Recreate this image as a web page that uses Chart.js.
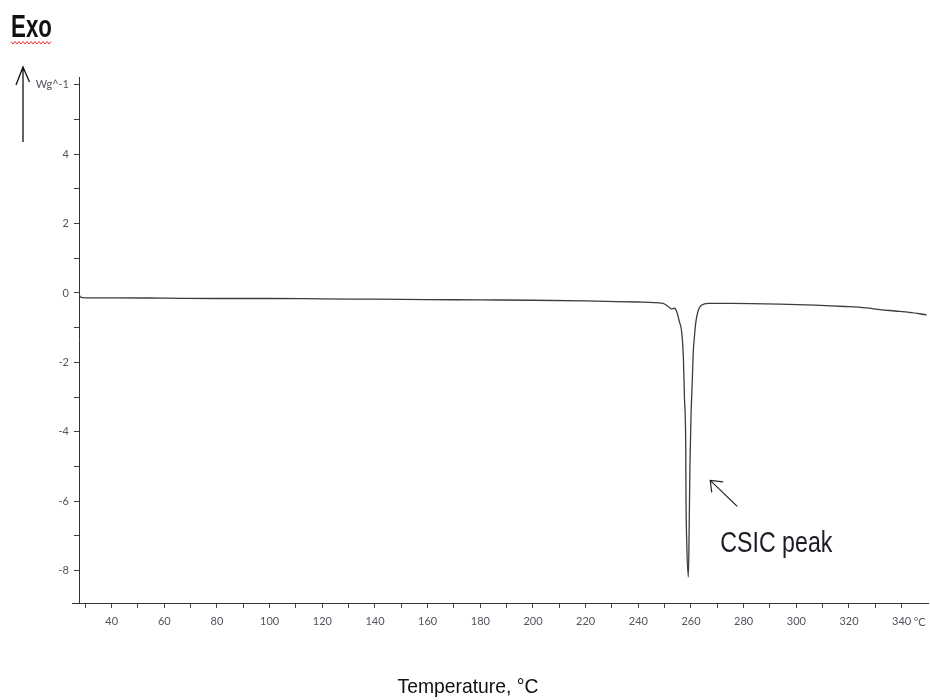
<!DOCTYPE html>
<html>
<head>
<meta charset="utf-8">
<script src="https://cdn.jsdelivr.net/npm/chart.js@4"></script>
<style>
  html, body { margin: 0; padding: 0; background: #ffffff; }
  #wrap { width: 930px; height: 700px; position: relative; }
</style>
</head>
<body>
<div id="wrap"><canvas id="dsc" width="930" height="700"></canvas></div>
<script>
// DSC thermogram: heat flow (W/g) against temperature (°C)
const temperature = [
  27.6, 28.4, 30, 40, 60, 80, 100, 120, 140, 160, 180, 200, 220, 240,
  249.4, 251.3, 252.7, 253.7, 254.6, 255.5, 256.5, 257.1, 257.5, 258.0,
  258.1, 258.4, 259.0, 259.3, 259.6, 260.0, 260.5, 260.9, 261.2, 261.8,
  262.8, 264.1, 266.5, 275, 293.7, 307, 318.5, 326.5, 331.8, 337.5, 343, 349.5
];
const heatFlow = [
  -0.06, -0.13, -0.14, -0.14, -0.15, -0.16, -0.16, -0.17, -0.18, -0.19, -0.2, -0.21, -0.23, -0.26,
  -0.30, -0.39, -0.46, -0.44, -0.54, -0.80, -1.15, -1.84, -2.99, -4.43,
  -5.87, -7.22, -8.18, -6.83, -5.0, -3.56, -2.51, -1.64, -1.35, -0.86,
  -0.49, -0.35, -0.30, -0.30, -0.32, -0.35, -0.39, -0.43, -0.48, -0.52, -0.56, -0.63
];

// axis ticks: every 10 °C / 1 W/g, labelled every 20 °C / 2 W/g
const xTicks = [30, 40, 50, 60, 70, 80, 90, 100, 110, 120, 130, 140, 150, 160, 170, 180, 190, 200,
  210, 220, 230, 240, 250, 260, 270, 280, 290, 300, 310, 320, 330, 340];
const xLabels = ['', '40', '', '60', '', '80', '', '100', '', '120', '', '140', '', '160', '', '180', '', '200',
  '', '220', '', '240', '', '260', '', '280', '', '300', '', '320', '', '340'];
const yTicks = [-8, -7, -6, -5, -4, -3, -2, -1, 0, 1, 2, 3, 4, 5, 6];
const yLabels = ['-8', '', '-6', '', '-4', '', '-2', '', '0', '', '2', '', '4', '', 'Wg^-1'];

const points = temperature.map((t, i) => ({ x: t, y: heatFlow[i] }));

const tickFont = { family: 'Lato, "Open Sans", sans-serif', size: 11 };
const tickColor = '#50545c';
const sans = '"Liberation Sans", Arial, sans-serif';

// draws text squeezed horizontally, for a condensed look
function narrowText(ctx, text, x, y, squeeze, align) {
  ctx.save();
  ctx.translate(x, y);
  ctx.scale(squeeze, 1);
  ctx.textAlign = align || 'left';
  ctx.fillText(text, 0, 0);
  const w = ctx.measureText(text).width * squeeze;
  ctx.restore();
  return w;
}

const annotations = {
  id: 'annotations',
  afterDraw(chart) {
    const ctx = chart.ctx;
    const xs = chart.scales.x, ys = chart.scales.y;
    const area = chart.chartArea;
    ctx.save();

    // short stub of the temperature axis left of the heat-flow axis
    ctx.strokeStyle = '#333';
    ctx.lineWidth = 1;
    ctx.beginPath();
    ctx.moveTo(72, area.bottom + 0.5);
    ctx.lineTo(area.left, area.bottom + 0.5);
    ctx.stroke();

    // "Exo" heading with its wavy red underline
    ctx.fillStyle = '#111';
    ctx.font = 'bold 31px ' + sans;
    ctx.textBaseline = 'alphabetic';
    const w = narrowText(ctx, 'Exo', 11, 37, 0.72);
    ctx.strokeStyle = '#e03030';
    ctx.lineWidth = 1;
    ctx.beginPath();
    for (let x = 11, k = 0; x <= 11 + w; x += 2, k++) {
      const y = (k % 2 === 0) ? 41.5 : 44;
      if (k === 0) ctx.moveTo(x, y); else ctx.lineTo(x, y);
    }
    ctx.stroke();

    // upward arrow marking the exothermic direction
    ctx.strokeStyle = '#111';
    ctx.lineWidth = 1.3;
    ctx.beginPath();
    ctx.moveTo(23, 142);
    ctx.lineTo(23, 67);
    ctx.moveTo(16, 85);
    ctx.lineTo(23, 67);
    ctx.lineTo(29.5, 82);
    ctx.stroke();

    // unit after the last temperature tick
    ctx.fillStyle = tickColor;
    ctx.font = '11px ' + tickFont.family;
    ctx.textAlign = 'left';
    ctx.textBaseline = 'middle';
    ctx.fillText('°C', xs.getPixelForValue(340) + 12, 622);

    // peak annotation
    const px = xs.getPixelForValue(267.3);
    const py = ys.getPixelForValue(-5.4);
    ctx.strokeStyle = '#222';
    ctx.lineWidth = 1.2;
    ctx.beginPath();
    ctx.moveTo(px + 27, py + 26);
    ctx.lineTo(px, py);
    ctx.moveTo(px + 13, py + 1.5);
    ctx.lineTo(px, py);
    ctx.lineTo(px + 1.5, py + 12);
    ctx.stroke();

    ctx.fillStyle = '#1c1c24';
    ctx.font = '29px ' + sans;
    ctx.textBaseline = 'alphabetic';
    narrowText(ctx, 'CSIC peak', px + 10, py + 72, 0.8);

    // x-axis title
    ctx.fillStyle = '#111';
    ctx.font = '21px ' + sans;
    narrowText(ctx, 'Temperature, °C', 468, 693, 0.92, 'center');

    ctx.restore();
  }
};

new Chart(document.getElementById('dsc'), {
  type: 'line',
  data: {
    datasets: [{
      data: points,
      borderColor: '#3c3c3c',
      borderWidth: 1.3,
      pointRadius: 0,
      cubicInterpolationMode: 'monotone',
      fill: false
    }]
  },
  options: {
    responsive: false,
    animation: false,
    layout: { padding: { top: 77, right: 2, left: 0, bottom: 0 } },
    plugins: { legend: { display: false }, tooltip: { enabled: false } },
    scales: {
      x: {
        type: 'linear',
        min: 27.6,
        max: 350,
        afterBuildTicks(scale) { scale.ticks = xTicks.map(v => ({ value: v })); },
        afterFit(scale) { scale.height = 97; },
        ticks: {
          autoSkip: false,
          maxRotation: 0,
          padding: 7,
          color: tickColor,
          font: tickFont,
          callback: (v) => xLabels[xTicks.indexOf(v)] ?? ''
        },
        grid: { drawOnChartArea: false, drawTicks: true, tickLength: 5, color: '#444' },
        border: { display: true, color: '#333', width: 1 }
      },
      y: {
        type: 'linear',
        min: -8.93,
        max: 6.22,
        afterBuildTicks(scale) { scale.ticks = yTicks.map(v => ({ value: v })); },
        afterFit(scale) { scale.width = 79; },
        ticks: {
          autoSkip: false,
          padding: 5,
          color: tickColor,
          font: tickFont,
          callback: (v) => yLabels[yTicks.indexOf(v)] ?? ''
        },
        grid: { drawOnChartArea: false, drawTicks: true, tickLength: 5, color: '#444' },
        border: { display: true, color: '#333', width: 1 }
      }
    }
  },
  plugins: [annotations]
});
</script>
</body>
</html>
